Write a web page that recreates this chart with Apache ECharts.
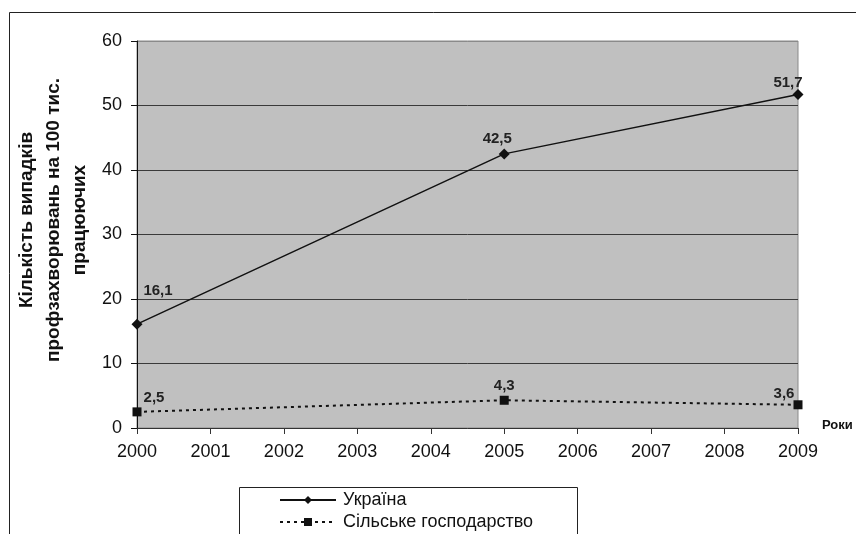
<!DOCTYPE html>
<html>
<head>
<meta charset="utf-8">
<script src="https://cdn.jsdelivr.net/npm/echarts@6/dist/echarts.min.js"></script>
<style>
  html, body { margin: 0; padding: 0; background: #fff; }
  #chart { width: 856px; height: 534px; }
</style>
</head>
<body>
<div id="chart"></div>
<script>
// Occupational disease cases per 100 thousand workers
const years = ['2000', '2001', '2002', '2003', '2004', '2005', '2006', '2007', '2008', '2009'];
const ukraine = [16.1, null, null, null, null, 42.5, null, null, null, 51.7];
const agriculture = [2.5, null, null, null, null, 4.3, null, null, null, 3.6];
const seriesNames = ['Україна', 'Сільське господарство'];
const yTitleLines = ['Кількість випадків', 'профзахворювань на 100 тис.', 'працюючих'];
const xTitle = 'Роки';

// per-point label offsets [dx, dy]
const ukraineLabelOffsets = [[21, -15], null, null, null, null, [-7, 3], null, null, null, [-10, 6]];
const agriLabelOffsets = [[17, 3], null, null, null, null, [0, 3], null, null, null, [-14, 6]];

const font = 'Liberation Sans, Arial, sans-serif';

function withLabels(values, offsets) {
  return values.map((v, i) => v === null ? null : {
    value: v,
    label: { offset: offsets[i] || [0, 0] }
  });
}

const labelStyle = {
  show: true,
  position: 'top',
  fontFamily: font,
  fontWeight: 'bold',
  fontSize: 15,
  color: '#222',
  formatter: p => String(p.value).replace('.', ',')
};

const chart = echarts.init(document.getElementById('chart'), null, { renderer: 'canvas' });

chart.setOption({
  animation: false,
  backgroundColor: '#ffffff',
  textStyle: { fontFamily: font },
  grid: {
    left: 137, right: 58, top: 41, bottom: 106,
    show: true,
    backgroundColor: '#c0c0c0',
    borderColor: '#8a8a8a',
    borderWidth: 1
  },
  xAxis: {
    type: 'category',
    data: years,
    boundaryGap: false,
    axisLine: { lineStyle: { color: '#333', width: 1 } },
    axisTick: { alignWithLabel: true, length: 6, lineStyle: { color: '#333' } },
    axisLabel: { color: '#111', fontSize: 18, fontFamily: font, margin: 15 },
    splitLine: { show: false }
  },
  yAxis: {
    type: 'value',
    min: 0, max: 60, interval: 10,
    axisLine: { show: true, lineStyle: { color: '#111', width: 1 } },
    axisTick: { show: true, length: 6, lineStyle: { color: '#111' } },
    axisLabel: { color: '#111', fontSize: 18, fontFamily: font, margin: 15 },
    splitLine: {
      show: true,
      lineStyle: { color: ['#8a8a8a', '#3a3a3a', '#3a3a3a', '#3a3a3a', '#3a3a3a', '#3a3a3a', '#8a8a8a'], width: 1 }
    }
  },
  legend: {
    orient: 'vertical',
    left: 279, top: 491,
    padding: 0,
    itemWidth: 56, itemHeight: 10,
    itemGap: 4,
    textStyle: { fontSize: 18, color: '#111', fontFamily: font, padding: [0, 0, 0, 2] },
    data: seriesNames
  },
  series: [
    {
      name: seriesNames[0],
      type: 'line',
      data: withLabels(ukraine, ukraineLabelOffsets),
      connectNulls: true,
      symbol: 'diamond',
      symbolSize: 11,
      lineStyle: { color: '#111', width: 1.5, type: 'solid' },
      itemStyle: { color: '#111' },
      label: labelStyle
    },
    {
      name: seriesNames[1],
      type: 'line',
      data: withLabels(agriculture, agriLabelOffsets),
      connectNulls: true,
      symbol: 'rect',
      symbolSize: 9,
      lineStyle: { color: '#111', width: 2, type: [3, 4] },
      itemStyle: { color: '#111' },
      label: labelStyle
    }
  ],
  graphic: [
    // outer chart frame
    { type: 'rect', silent: true, shape: { x: 9.5, y: 12.5, width: 1000, height: 1000 },
      style: { fill: 'none', stroke: '#222', lineWidth: 1 }, z: -1 },
    // legend frame
    { type: 'rect', silent: true, shape: { x: 239.5, y: 487.5, width: 338, height: 100 },
      style: { fill: 'none', stroke: '#222', lineWidth: 1 } },
    // x-axis title
    { type: 'text', silent: true, left: 822, top: 419,
      style: { text: xTitle, font: 'bold 13px ' + font, fill: '#111' } },
    // y-axis title (three rotated lines)
    ...yTitleLines.map((t, i) => ({
      type: 'text', silent: true,
      x: 27 + i * 26.5, y: 220, rotation: Math.PI / 2,
      style: { text: t, font: 'bold 19px ' + font, fill: '#111', align: 'center', verticalAlign: 'middle' }
    }))
  ]
});
</script>
</body>
</html>
